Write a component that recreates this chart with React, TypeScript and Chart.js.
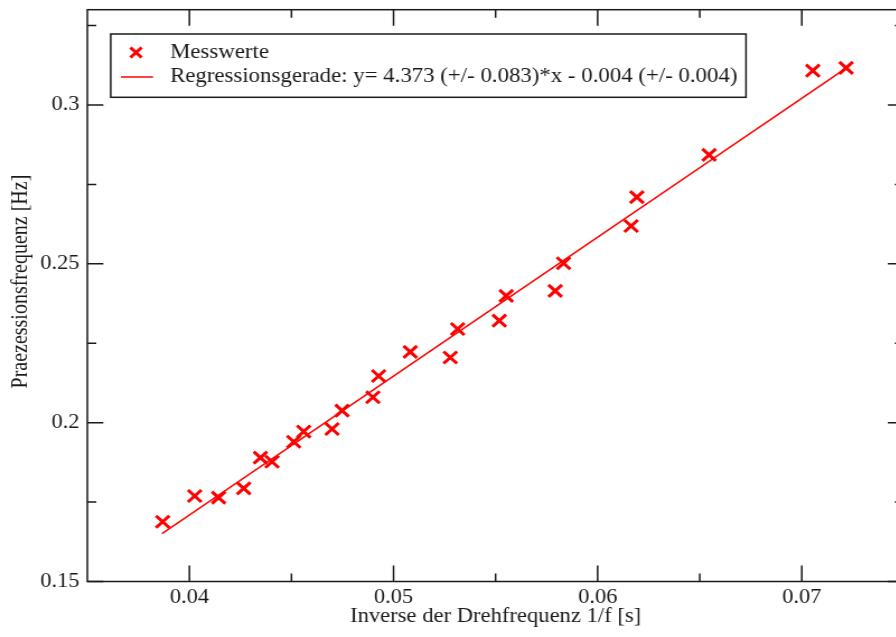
import React, { useEffect, useRef } from "react";
import { Chart, registerables } from "chart.js";

Chart.register(...registerables);

// ---- data ----
const inverseFreq = [
  0.03869, 0.04026, 0.04143, 0.04266, 0.04348, 0.04405, 0.04511, 0.0456,
  0.04699, 0.04748, 0.04899, 0.04927, 0.05082, 0.05278, 0.05314, 0.05518,
  0.05552, 0.05792, 0.05833, 0.06164, 0.06192, 0.06546, 0.07054, 0.07217,
];
const precessionFreq = [
  0.1688, 0.1769, 0.1764, 0.1793, 0.189, 0.1877, 0.194, 0.1972,
  0.198, 0.2038, 0.208, 0.2147, 0.2223, 0.2205, 0.2295, 0.2321,
  0.2399, 0.2415, 0.2502, 0.2619, 0.271, 0.2843, 0.3108, 0.3117,
];
const regressionX = [0.03866, 0.07217];
const regressionY = [0.1651, 0.3116];

const xMajorTicks = [0.04, 0.05, 0.06, 0.07];
const xMinorTicks = [0.045, 0.055, 0.065];
const yMajorTicks = [0.15, 0.2, 0.25, 0.3];
const yMinorTicks = [0.175, 0.225, 0.275, 0.325];

const seriesLabel = "Messwerte";
const regressionLabel =
  "Regressionsgerade: y= 4.373 (+/- 0.083)*x - 0.004 (+/- 0.004)";
const xTitle = "Inverse der Drehfrequenz 1/f [s]";
const yTitle = "Praezessionsfrequenz [Hz]";

const FONT = "'Liberation Serif', 'Times New Roman', serif";
const RED = "#ff0000";
const INK = "#1a1a1a";
const STRETCH = 909 / 812;

const framePlugin = {
  id: "frameTicks",
  beforeDatasetsDraw(chart: any) {
    const { ctx, chartArea, scales } = chart;
    const { left, right, top, bottom } = chartArea;
    const x = scales.x;
    const y = scales.y;
    ctx.save();
    ctx.strokeStyle = INK;
    ctx.lineWidth = 1.5;
    ctx.strokeRect(left, top, right - left, bottom - top);
    ctx.beginPath();
    const vx = (vals: number[], len: number) => {
      for (const v of vals) {
        const p = x.getPixelForValue(v);
        ctx.moveTo(p, bottom);
        ctx.lineTo(p, bottom - len);
        ctx.moveTo(p, top);
        ctx.lineTo(p, top + len);
      }
    };
    const hy = (vals: number[], len: number) => {
      for (const v of vals) {
        const p = y.getPixelForValue(v);
        ctx.moveTo(left, p);
        ctx.lineTo(left + len, p);
        ctx.moveTo(right, p);
        ctx.lineTo(right - len, p);
      }
    };
    vx(xMajorTicks, 16);
    vx(xMinorTicks, 8);
    hy(yMajorTicks, 14.3);
    hy(yMinorTicks, 8);
    ctx.stroke();
    ctx.restore();
  },
  afterDraw(chart: any) {
    const { ctx, chartArea } = chart;
    ctx.save();
    // y axis title
    ctx.fillStyle = INK;
    ctx.font = `20px ${FONT}`;
    ctx.textAlign = "center";
    ctx.textBaseline = "middle";
    ctx.translate(19, (chartArea.top + chartArea.bottom) / 2 - 14);
    ctx.rotate(-Math.PI / 2);
    ctx.fillText(yTitle, 0, 0);
    ctx.restore();

    // legend box
    ctx.save();
    const bx = 98.9, by = 34, bw = 666.4 - 98.9, bh = 97.3 - 34;
    ctx.fillStyle = "#ffffff";
    ctx.fillRect(bx, by, bw, bh);
    ctx.strokeStyle = INK;
    ctx.lineWidth = 1.5;
    ctx.strokeRect(bx, by, bw, bh);
    const ds = chart.data.datasets;
    // marker
    ctx.strokeStyle = RED;
    ctx.lineWidth = 3;
    const cx = 121.5, cy = 52.5, r = 5;
    ctx.beginPath();
    ctx.moveTo(cx - r, cy - r);
    ctx.lineTo(cx + r, cy + r);
    ctx.moveTo(cx - r, cy + r);
    ctx.lineTo(cx + r, cy - r);
    ctx.stroke();
    // line
    ctx.lineWidth = 1.5;
    ctx.beginPath();
    ctx.moveTo(108, 77);
    ctx.lineTo(136.7, 77);
    ctx.stroke();
    ctx.fillStyle = INK;
    ctx.font = `20.4px ${FONT}`;
    ctx.textAlign = "left";
    ctx.textBaseline = "middle";
    ctx.fillText(ds[0].label, 151.9, 53);
    ctx.fillText(ds[1].label, 151.9, 76.5);
    ctx.restore();
  },
};

export default function App() {
  const ref = useRef<HTMLCanvasElement | null>(null);

  useEffect(() => {
    if (!ref.current) return;
    const chart = new Chart(ref.current, {
      type: "scatter",
      data: {
        datasets: [
          {
            label: seriesLabel,
            data: inverseFreq.map((v, i) => ({ x: v, y: precessionFreq[i] })),
            pointStyle: "crossRot",
            pointRadius: 8.5,
            pointHoverRadius: 8.5,
            borderColor: RED,
            backgroundColor: RED,
            pointBorderWidth: 3,
            borderWidth: 3,
            showLine: false,
          },
          {
            label: regressionLabel,
            data: regressionX.map((v, i) => ({ x: v, y: regressionY[i] })),
            showLine: true,
            borderColor: RED,
            borderWidth: 1.5,
            pointRadius: 0,
            pointHoverRadius: 0,
            fill: false,
          },
        ],
      },
      options: {
        animation: false,
        responsive: false,
        devicePixelRatio: 1,
        layout: {
          autoPadding: false,
          padding: { left: 0, right: 4.6, top: 9.7, bottom: 0 },
        },
        plugins: {
          legend: { display: false },
          tooltip: { enabled: false },
        },
        scales: {
          x: {
            type: "linear",
            min: 0.035,
            max: 0.075,
            afterBuildTicks: (axis: any) => {
              axis.ticks = xMajorTicks.map((v) => ({ value: v }));
            },
            afterFit: (axis: any) => {
              axis.height = 55.5;
              axis.paddingLeft = 0;
              axis.paddingRight = 0;
              axis.paddingTop = 0;
              axis.paddingBottom = 0;
            },
            grid: { display: false, drawTicks: false },
            border: { display: false },
            ticks: {
              padding: 4.5,
              color: INK,
              font: { family: FONT, size: 20 },
              maxRotation: 0,
              callback: (v: any) => String(Number(v)),
            },
            title: {
              display: true,
              text: xTitle,
              color: INK,
              font: { family: FONT, size: 20.2 },
              padding: { top: 0, bottom: 8.5 },
            },
          },
          y: {
            type: "linear",
            min: 0.15,
            max: 0.33,
            afterBuildTicks: (axis: any) => {
              axis.ticks = yMajorTicks.map((v) => ({ value: v }));
            },
            afterFit: (axis: any) => {
              axis.width = 78;
              axis.paddingLeft = 0;
              axis.paddingRight = 0;
              axis.paddingTop = 0;
              axis.paddingBottom = 0;
            },
            grid: { display: false, drawTicks: false },
            border: { display: false },
            ticks: {
              padding: 7,
              color: INK,
              font: { family: FONT, size: 20 },
              callback: (v: any) => String(Number(v)),
            },
            title: { display: false, text: yTitle },
          },
        },
      },
      plugins: [framePlugin],
    });
    return () => chart.destroy();
  }, []);

  return (
    <div
      style={{
        position: "fixed",
        left: 0,
        top: 0,
        width: 896,
        height: 637,
        overflow: "hidden",
        background: "#ffffff",
      }}
    >
      <canvas
        ref={ref}
        width={812}
        height={637}
        style={{ width: `${812 * STRETCH}px`, height: "637px", display: "block" }}
      />
    </div>
  );
}
